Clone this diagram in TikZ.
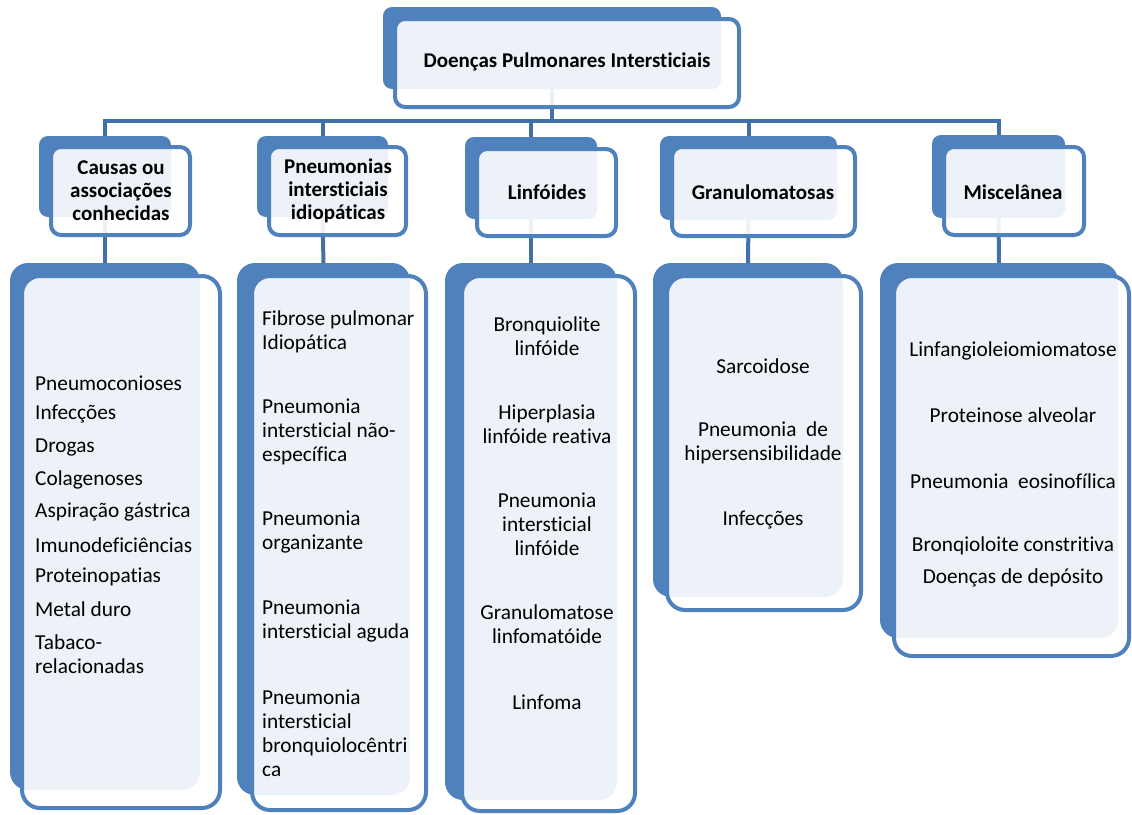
\documentclass[tikz,border=0pt]{standalone}
\usepackage{fontspec}
\setmainfont{Carlito}[Ligatures={NoCommon}]
\pgfdeclarelayer{bg}
\pgfdeclarelayer{lines}
\pgfsetlayers{bg,lines,main}
\definecolor{sablue}{RGB}{79,129,189}
\definecolor{lineblue}{RGB}{65,113,167}
\tikzset{
  backbox/.style={rectangle, rounded corners=#1, fill=sablue, draw=none, inner sep=0pt, outer sep=0pt},
  frontbox/.style={rectangle, rounded corners=#1, fill=white, fill opacity=0.9, draw=sablue, draw opacity=1, line width=4pt, inner sep=0pt, outer sep=0pt},
  conn/.style={draw=lineblue, line width=4pt, line join=miter},
  head/.style={font=\fontsize{21}{23}\selectfont\bfseries, align=center, inner sep=0pt},
  itemc/.style={font=\fontsize{21.3}{24}\selectfont, align=center, inner sep=0pt},
  iteml/.style={font=\fontsize{21.3}{24}\selectfont, align=left, anchor=west, inner sep=0pt},
}
\newcommand\backb[6]{\node[backbox=#2, minimum width={#5pt-#3pt}, minimum height={#6pt-#4pt}] (#1) at ({(#3+#5)/2},{(#4+#6)/2}) {};}
\newcommand\frontb[6]{\node[frontbox=#2, minimum width={#5pt-#3pt-4pt}, minimum height={#6pt-#4pt-4pt}] (#1) at ({(#3+#5)/2},{(#4+#6)/2}) {};}
\begin{document}
\begin{tikzpicture}[x=1pt,y=-1pt]
\useasboundingbox (0,0) rectangle (1132,814);
\begin{pgfonlayer}{bg}
  \fill[white] (0,0) rectangle (1132,814);
\end{pgfonlayer}
% back boxes
\backb{top}{9pt}{383}{7}{721}{89}
\backb{b1}{9pt}{39}{136}{171}{217}
\backb{b2}{9pt}{257}{136}{388}{217}
\backb{b3}{9pt}{465}{137}{597}{219}
\backb{b4}{9pt}{660}{136}{837}{220}
\backb{b5}{9pt}{932}{135}{1065}{218}
\backb{c1}{18pt}{10}{263}{200}{790}
\backb{c2}{18pt}{237}{263}{410}{795}
\backb{c3}{18pt}{445}{263}{617}{800}
\backb{c4}{18pt}{653}{263}{843}{597}
\backb{c5}{18pt}{880}{263}{1118}{638}
% front boxes
\frontb{ftop}{10pt}{393}{17}{741}{109}
\frontb{fb1}{10pt}{49}{145}{192}{237}
\frontb{fb2}{10pt}{267}{145}{408}{237}
\frontb{fb3}{10pt}{475}{147}{618}{238}
\frontb{fb4}{10pt}{670}{145}{857}{238}
\frontb{fb5}{10pt}{942}{145}{1086}{237}
\frontb{fc1}{18pt}{20}{274}{222}{810}
\frontb{fc2}{18pt}{250}{274}{428}{812}
\frontb{fc3}{18pt}{460}{274}{637}{813}
\frontb{fc4}{18pt}{665}{274}{863}{612}
\frontb{fc5}{18pt}{892}{274}{1131}{658}
% connectors
\begin{pgfonlayer}{lines}
  \coordinate (hb) at (0,121);
  \draw[conn] (top.south) -- (top.south |- hb);
  \draw[conn] (b1.north) -- (b1.north |- hb) -- (b5.north |- hb) -- (b5.north);
  \draw[conn] (b2.north |- hb) -- (b2.north);
  \draw[conn] (b3.north |- hb) -- (b3.north);
  \draw[conn] (b4.north |- hb) -- (b4.north);
  \draw[conn] (b1.south) -- (c1.north);
  \draw[conn] (b2.south) -- (c2.north);
  \draw[conn] (b3.south) -- (c3.north);
  \draw[conn] (b4.south) -- (c4.north);
  \draw[conn] (b5.south) -- (c5.north);
\end{pgfonlayer}
% headings
\node[head] (ttop) at (567,62) {Doenças Pulmonares Intersticiais};
\node[head] (tb1) at (121,191) {Causas ou\\associações\\conhecidas};
\node[head] (tb2) at (338,191) {Pneumonias\\intersticiais\\idiopáticas};
\node[head] (tb3) at (547,192) {Linfóides};
\node[head] (tb4) at (763,192) {Granulomatosas};
\node[head] (tb5) at (1013,192) {Miscelânea};
% column 1
\node[iteml] (i11) at (35,383) {Pneumoconioses};
\node[iteml] (i12) at (35,414) {Infecções};
\node[iteml] (i13) at (35,447) {Drogas};
\node[iteml] (i14) at (35,480) {Colagenoses};
\node[iteml] (i15) at (35,512) {Aspiração gástrica};
\node[iteml] (i16) at (35,545) {Imunodeficiências};
\node[iteml] (i17) at (35,577) {Proteinopatias};
\node[iteml] (i18) at (35,609) {Metal duro};
\node[iteml] (i19) at (35,654.5) {Tabaco-\\relacionadas};
% column 2
\node[iteml] (i21) at (262,332) {Fibrose pulmonar\\Idiopática};
\node[iteml] (i22) at (262,432) {Pneumonia\\intersticial não-\\específica};
\node[iteml] (i23) at (262,532) {Pneumonia\\organizante};
\node[iteml] (i24) at (262,620.5) {Pneumonia\\intersticial aguda};
\node[iteml] (i25) at (262,732.75) {Pneumonia\\intersticial\\bronquiolocêntri\\ca};
% column 3
\node[itemc] (i31) at (547,336.5) {Bronquiolite\\linfóide};
\node[itemc] (i32) at (547,424) {Hiperplasia\\linfóide reativa};
\node[itemc] (i33) at (547,524) {Pneumonia\\intersticial\\linfóide};
\node[itemc] (i34) at (547,624) {Granulomatose\\linfomatóide};
\node[itemc] (i35) at (547,702) {Linfoma};
% column 4
\node[itemc] (i41) at (763,366) {Sarcoidose};
\node[itemc] (i42) at (763,443) {Pneumonia~~de\\hipersensibilidade};
\node[itemc] (i43) at (763,520) {Infecções};
% column 5
\node[itemc] (i51) at (1013,351) {Linfangioleiomiomatose};
\node[itemc] (i52) at (1013,415) {Proteinose alveolar};
\node[itemc] (i53) at (1013,481) {Pneumonia~~eosinofílica};
\node[itemc] (i54) at (1013,546) {Bronqioloite constritiva};
\node[itemc] (i55) at (1013,578) {Doenças de depósito};
\end{tikzpicture}
\end{document}
